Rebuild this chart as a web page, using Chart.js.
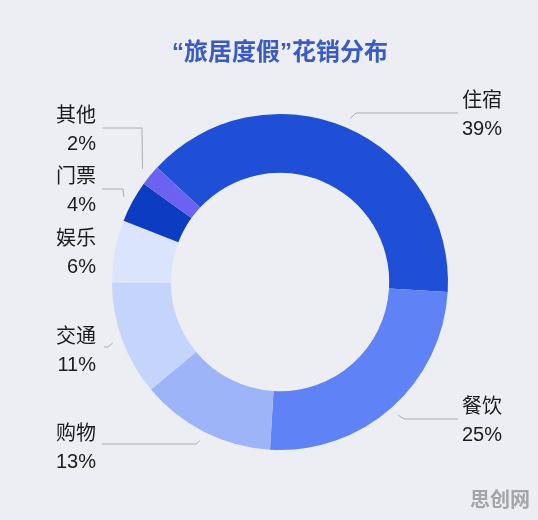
<!DOCTYPE html>
<html>
<head>
<meta charset="utf-8">
<script src="https://cdn.jsdelivr.net/npm/chart.js@4"></script>
<style>
    html, body { margin: 0; padding: 0; background: #eceef3; }
    canvas { display: block; }
</style>
</head>
<body>
<canvas id="spendChart" width="538" height="520"></canvas>
<script>

const categories = ['住宿', '餐饮', '购物', '交通', '娱乐', '门票', '其他'];
const shares = [39, 25, 13, 11, 6, 4, 2];
const percentLabels = ['39%', '25%', '13%', '11%', '6%', '4%', '2%'];
const titleText = '“旅居度假”花销分布';


const sliceColors = ['#1e4fd6', '#5f83f6', '#9db4f9', '#c4d4fc', '#dae4fd', '#0b3cc1', '#6b62f1'];

// where each label sits and how its leader line bends
const labelLayout = [
    { x: 462, y: 101, align: 'left', elbow: [356, 113], end: 458 },
    { x: 462, y: 407, align: 'left', elbow: [404, 419], end: 458 },
    { x: 96, y: 434, align: 'right', elbow: [196, 444], end: 102 },
    { x: 96, y: 337, align: 'right', elbow: [108, 347], end: 104 },
    { x: 96, y: 239, align: 'right', elbow: null, end: null },
    { x: 96, y: 177, align: 'right', elbow: [123, 189], end: 102 },
    { x: 96, y: 116, align: 'right', elbow: [142, 128], end: 102 }
];

const fontFamily = '"Liberation Sans", "Noto Sans CJK SC", sans-serif';

const labelPlugin = {
    id: 'sideLabels',
    afterDraw(chart) {
        const ctx = chart.ctx;
        const arcs = chart.getDatasetMeta(0).data;

        ctx.save();

        // title
        ctx.fillStyle = '#3a5ac6';
        ctx.font = 'bold 24px ' + fontFamily;
        ctx.textAlign = 'center';
        ctx.textBaseline = 'middle';
        ctx.fillText(titleText, 280, 53);

        arcs.forEach((arc, i) => {
            const p = arc.getProps(['x', 'y', 'startAngle', 'endAngle', 'outerRadius'], true);
            const mid = (p.startAngle + p.endAngle) / 2;
            const r = p.outerRadius + 10;
            const sx = p.x + Math.cos(mid) * r;
            const sy = p.y + Math.sin(mid) * r;
            const lay = labelLayout[i];

            if (lay.elbow) {
                ctx.strokeStyle = '#a9acb3';
                ctx.lineWidth = 1;
                ctx.beginPath();
                ctx.moveTo(sx, sy);
                ctx.lineTo(lay.elbow[0], lay.elbow[1]);
                ctx.lineTo(lay.end, lay.elbow[1]);
                ctx.stroke();
            }

            ctx.fillStyle = '#1c1c1e';
            ctx.font = '20px ' + fontFamily;
            ctx.textAlign = lay.align;
            ctx.textBaseline = 'middle';
            ctx.fillText(categories[i], lay.x, lay.y);
            ctx.fillText(percentLabels[i], lay.x, lay.y + 28);
        });

        // watermark
        ctx.fillStyle = 'rgba(140, 140, 140, 0.75)';
        ctx.font = 'bold 20px ' + fontFamily;
        ctx.textAlign = 'left';
        ctx.fillText('思创网', 470, 501);

        ctx.restore();
    }
};

new Chart(document.getElementById('spendChart'), {
    type: 'doughnut',
    data: {
        labels: categories,
        datasets: [{
            data: shares,
            backgroundColor: sliceColors,
            borderWidth: 0
        }]
    },
    options: {
        responsive: false,
        animation: false,
        rotation: -47,
        cutout: '65%',
        layout: {
            padding: { left: 112, right: 90, top: 114, bottom: 70 }
        },
        plugins: {
            legend: { display: false },
            tooltip: { enabled: false },
            title: { display: false }
        }
    },
    plugins: [labelPlugin]
});
</script>
</body>
</html>
